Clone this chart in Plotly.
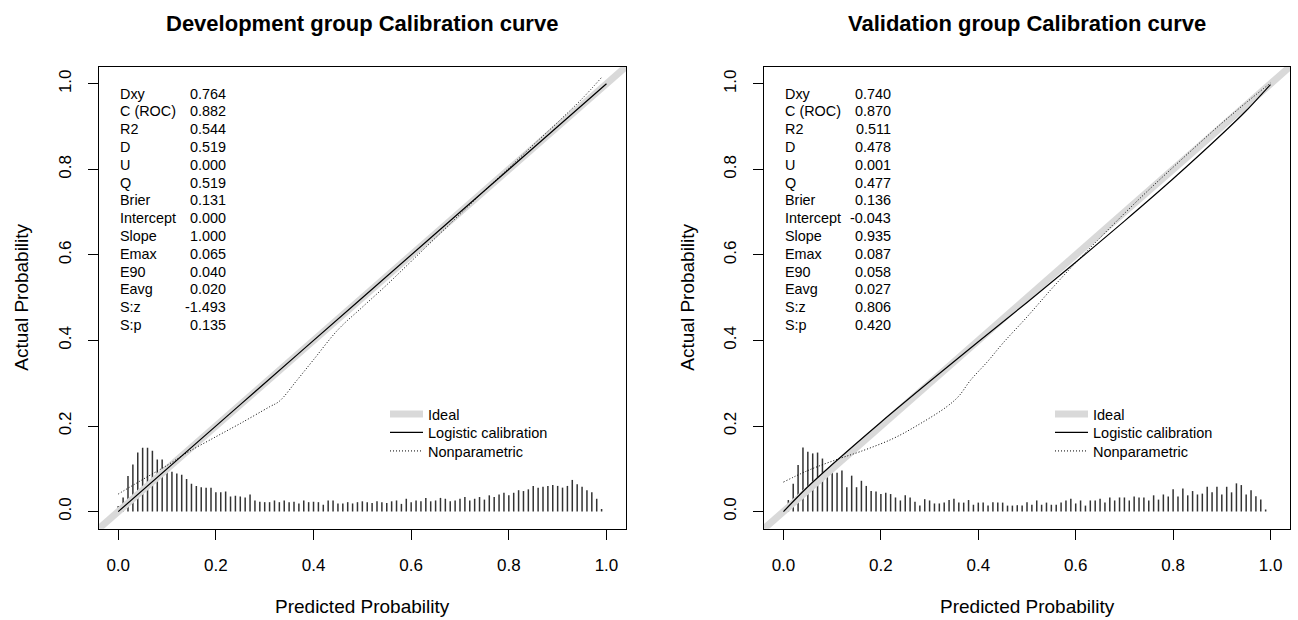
import plotly.graph_objects as go

# ---------------- data ----------------
stat_names = ["Dxy", "C (ROC)", "R2", "D", "U", "Q", "Brier", "Intercept",
              "Slope", "Emax", "E90", "Eavg", "S:z", "S:p"]
dev_stats = ["0.764", "0.882", "0.544", "0.519", "0.000", "0.519", "0.131",
             "0.000", "1.000", "0.065", "0.040", "0.020", "-1.493", "0.135"]
val_stats = ["0.740", "0.870", "0.511", "0.478", "0.001", "0.477", "0.136",
             "-0.043", "0.935", "0.087", "0.058", "0.027", "0.806", "0.420"]

legend_names = ["Ideal", "Logistic calibration", "Nonparametric"]

ideal_x = [-0.04, 1.04]
ideal_y = [-0.04, 1.04]

# Development: logistic calibration
dev_logit_x = [0.0, 0.25, 0.5, 0.75, 1.0]
dev_logit_y = [0.0, 0.25, 0.5, 0.75, 1.0]
# Development: nonparametric
dev_np_x = [0.0, 0.05, 0.10, 0.14, 0.20, 0.25, 0.31, 0.33, 0.366, 0.40, 0.45,
            0.50, 0.55, 0.60, 0.65, 0.70, 0.75, 0.80, 0.85, 0.90, 0.95, 0.99]
dev_np_y = [0.041, 0.075, 0.108, 0.137, 0.175, 0.206, 0.245, 0.258, 0.307, 0.355, 0.425,
            0.478, 0.530, 0.585, 0.640, 0.695, 0.750, 0.803, 0.857, 0.910, 0.965, 1.015]

# Validation: logistic calibration
val_logit_x = [0.0, 0.05, 0.10, 0.20, 0.30, 0.40, 0.50, 0.60, 0.70, 0.80, 0.90, 0.95, 0.99, 1.0]
val_logit_y = [0.0, 0.058, 0.110, 0.209, 0.304, 0.397, 0.489, 0.583, 0.679, 0.778, 0.882,
               0.937, 0.986, 0.998]
# Validation: nonparametric
val_np_x = [0.0, 0.05, 0.1125, 0.157, 0.2255, 0.28, 0.335, 0.36, 0.384, 0.42, 0.45,
            0.50, 0.55, 0.60, 0.65, 0.70, 0.75, 0.80, 0.85, 0.90, 0.95, 1.0]
val_np_y = [0.069, 0.096, 0.123, 0.140, 0.171, 0.205, 0.245, 0.270, 0.307, 0.352, 0.393,
            0.455, 0.520, 0.582, 0.640, 0.697, 0.752, 0.805, 0.857, 0.908, 0.956, 1.002]

# Spike histograms (bin centres and heights)
dev_spike_x = [round(i * 0.01, 2) for i in range(100)]
dev_spike_h = [0.013, 0.033, 0.083, 0.110, 0.138, 0.149, 0.149, 0.142, 0.122, 0.122,
               0.107, 0.093, 0.089, 0.086, 0.076, 0.065, 0.060, 0.057, 0.056, 0.056,
               0.045, 0.045, 0.047, 0.035, 0.037, 0.035, 0.033, 0.040, 0.026, 0.023,
               0.022, 0.022, 0.026, 0.022, 0.026, 0.022, 0.023, 0.019, 0.026, 0.022,
               0.023, 0.022, 0.016, 0.026, 0.026, 0.019, 0.019, 0.022, 0.019, 0.022,
               0.024, 0.022, 0.020, 0.024, 0.022, 0.020, 0.024, 0.026, 0.018, 0.030,
               0.022, 0.026, 0.024, 0.032, 0.024, 0.026, 0.032, 0.030, 0.024, 0.026,
               0.030, 0.034, 0.026, 0.030, 0.034, 0.028, 0.038, 0.034, 0.040, 0.044,
               0.038, 0.044, 0.050, 0.048, 0.052, 0.060, 0.056, 0.058, 0.060, 0.062,
               0.060, 0.056, 0.060, 0.074, 0.064, 0.058, 0.050, 0.045, 0.030, 0.006]
val_spike_x = [round(i * 0.01, 2) for i in range(1, 100)]
val_spike_h = [0.027, 0.065, 0.109, 0.150, 0.140, 0.136, 0.138, 0.124, 0.099, 0.096,
               0.091, 0.096, 0.057, 0.084, 0.057, 0.072, 0.060, 0.048, 0.047, 0.041,
               0.044, 0.041, 0.033, 0.026, 0.038, 0.033, 0.023, 0.014, 0.029, 0.026,
               0.019, 0.019, 0.021, 0.027, 0.030, 0.021, 0.021, 0.027, 0.016, 0.021,
               0.021, 0.014, 0.022, 0.021, 0.021, 0.014, 0.014, 0.015, 0.014, 0.022,
               0.016, 0.026, 0.016, 0.021, 0.016, 0.016, 0.021, 0.026, 0.030, 0.019,
               0.026, 0.014, 0.026, 0.026, 0.030, 0.021, 0.033, 0.026, 0.033, 0.033,
               0.026, 0.035, 0.033, 0.033, 0.026, 0.038, 0.028, 0.040, 0.035, 0.052,
               0.035, 0.054, 0.038, 0.048, 0.040, 0.042, 0.058, 0.045, 0.058, 0.040,
               0.058, 0.045, 0.066, 0.062, 0.040, 0.050, 0.036, 0.028, 0.005]

titles = ["Development group Calibration curve", "Validation group Calibration curve"]
x_title = "Predicted Probability"
y_title = "Actual Probability"
tick_vals = [0.0, 0.2, 0.4, 0.6, 0.8, 1.0]
tick_text = ["0.0", "0.2", "0.4", "0.6", "0.8", "1.0"]

# ---------------- figure ----------------
W, H = 1298, 620
FONT = "Liberation Sans, Arial, sans-serif"
fig = go.Figure()

x_domains = [[98.7 / W, 626 / W], [764 / W, 1290 / W]]
y_domain = [1 - 528.7 / H, 1 - 66.7 / H]
legend_left_px = [385, 1050]
legend_rows_px = [414, 432.5, 451]

panels = [
    dict(logit=(dev_logit_x, dev_logit_y), np=(dev_np_x, dev_np_y),
         spk=(dev_spike_x, dev_spike_h), stats=dev_stats),
    dict(logit=(val_logit_x, val_logit_y), np=(val_np_x, val_np_y),
         spk=(val_spike_x, val_spike_h), stats=val_stats),
]

annotations = []
legends = {}
for i, p in enumerate(panels):
    xa = "x" if i == 0 else "x2"
    ya = "y" if i == 0 else "y2"
    lgs = []
    for k in range(3):
        n = i * 3 + k + 1
        key = "legend" if n == 1 else "legend%d" % n
        lgs.append(key)
        legends[key] = dict(x=legend_left_px[i] / W, y=1 - legend_rows_px[k] / H,
                            xanchor="left", yanchor="middle", bgcolor="rgba(0,0,0,0)",
                            font=dict(family=FONT, size=14.5, color="black"),
                            itemwidth=33, borderwidth=0)
    # spikes
    sx, sy = [], []
    for xv, hv in zip(*p["spk"]):
        sx += [xv, xv, None]
        sy += [0, hv, None]
    fig.add_trace(go.Scatter(x=sx, y=sy, mode="lines", xaxis=xa, yaxis=ya,
                             line=dict(color="#333333", width=1.5),
                             showlegend=False, hoverinfo="skip"))
    fig.add_trace(go.Scatter(x=ideal_x, y=ideal_y, mode="lines", xaxis=xa, yaxis=ya,
                             line=dict(color="#d9d9d9", width=7), name=legend_names[0],
                             legend=lgs[0], showlegend=True))
    fig.add_trace(go.Scatter(x=p["logit"][0], y=p["logit"][1], mode="lines",
                             xaxis=xa, yaxis=ya,
                             line=dict(color="black", width=1.2, shape="spline"),
                             name=legend_names[1], legend=lgs[1], showlegend=True))
    fig.add_trace(go.Scatter(x=p["np"][0], y=p["np"][1], mode="lines", xaxis=xa, yaxis=ya,
                             line=dict(color="black", width=1, dash="1px,2px", shape="spline"),
                             name=legend_names[2], legend=lgs[2], showlegend=True))
    # stats text
    for r, (nm, vv) in enumerate(zip(stat_names, p["stats"])):
        yy = 0.977 - r * 0.0416
        annotations.append(dict(x=0.0, y=yy, xref=xa, yref=ya, text=nm, showarrow=False,
                                xanchor="left", yanchor="middle",
                                font=dict(family=FONT, size=14.4, color="black")))
        annotations.append(dict(x=0.225, y=yy, xref=xa, yref=ya, text=vv, showarrow=False,
                                xanchor="right", yanchor="middle",
                                font=dict(family=FONT, size=14.4, color="black")))
    cx = (x_domains[i][0] + x_domains[i][1]) / 2
    annotations.append(dict(x=cx, y=1 - 23 / H, xref="paper", yref="paper",
                            text="<b>" + titles[i] + "</b>", showarrow=False,
                            xanchor="center", yanchor="middle",
                            font=dict(family=FONT, size=22, color="black")))
    annotations.append(dict(x=cx, y=1 - 606 / H, xref="paper", yref="paper",
                            text=x_title, showarrow=False, xanchor="center", yanchor="middle",
                            font=dict(family=FONT, size=19, color="black")))
    ycx = 22 if i == 0 else 688
    annotations.append(dict(x=ycx / W, y=(y_domain[0] + y_domain[1]) / 2, xref="paper",
                            yref="paper", text=y_title, showarrow=False, textangle=-90,
                            xanchor="center", yanchor="middle",
                            font=dict(family=FONT, size=19, color="black")))

axis_common = dict(range=[-0.04, 1.04], showgrid=False, zeroline=False, showline=True,
                   linecolor="black", linewidth=1, mirror=True, ticks="outside",
                   ticklen=10, tickcolor="black", tickwidth=1, tickvals=tick_vals,
                   ticktext=tick_text, tickfont=dict(family=FONT, size=17, color="black"))

fig.update_layout(
    width=W, height=H, margin=dict(l=0, r=0, t=0, b=0),
    paper_bgcolor="white", plot_bgcolor="white",
    xaxis=dict(domain=x_domains[0], anchor="y", ticklabelstandoff=11, **axis_common),
    yaxis=dict(domain=y_domain, anchor="x", tickangle=-90, ticklabelstandoff=10, **axis_common),
    xaxis2=dict(domain=x_domains[1], anchor="y2", ticklabelstandoff=11, **axis_common),
    yaxis2=dict(domain=y_domain, anchor="x2", tickangle=-90, ticklabelstandoff=10, **axis_common),
    annotations=annotations,
    showlegend=True,
    **legends,
)

fig.write_html("out.html")
